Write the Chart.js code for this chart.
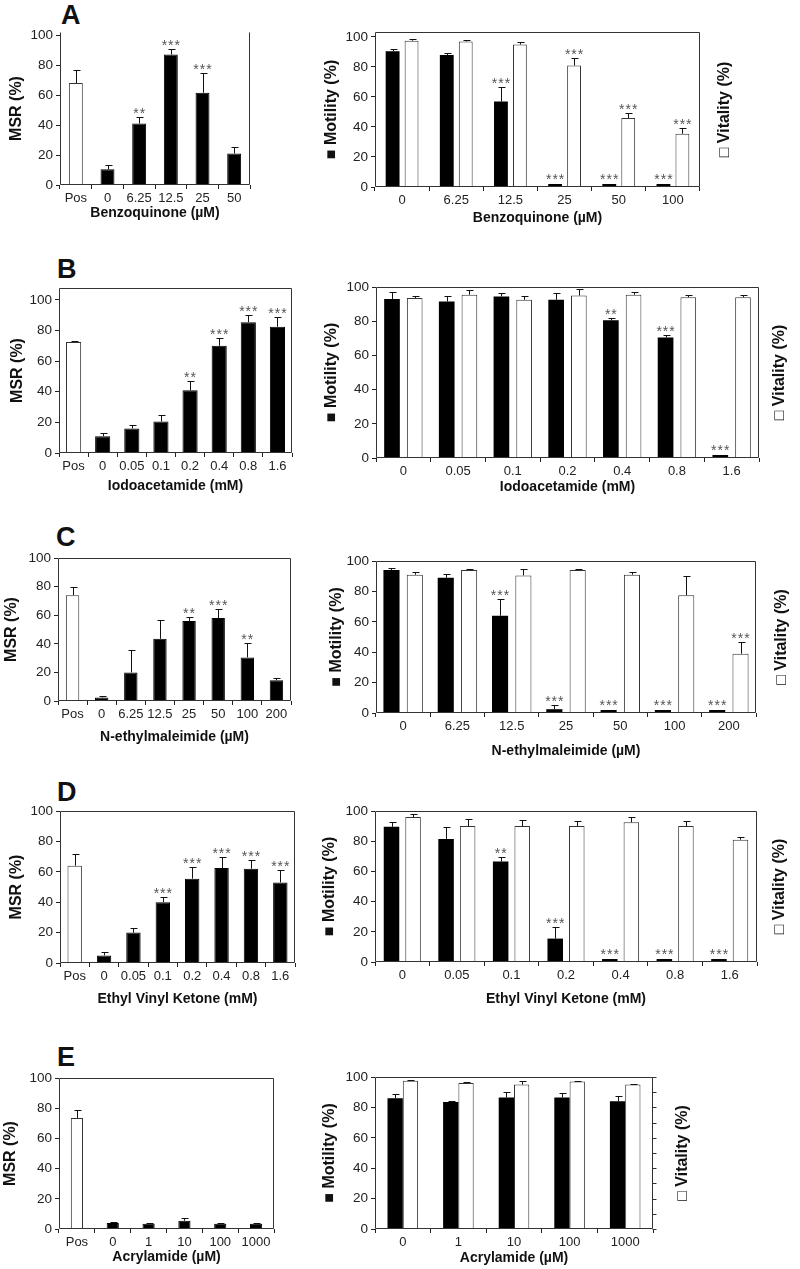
<!DOCTYPE html>
<html>
<head>
<meta charset="utf-8">
<script src="https://cdn.jsdelivr.net/npm/chart.js@4"></script>
<style>
  body { margin: 0; background: #fff; width: 800px; height: 1269px; position: relative; overflow: hidden; font-family: "Liberation Sans", Arial, sans-serif; }
  canvas { position: absolute; }
  .tag { position: absolute; font-weight: bold; font-size: 27px; line-height: 27px; color: #111; }
</style>
</head>
<body>
<div class="tag" style="left:61px;top:2px">A</div>
<div class="tag" style="left:57px;top:256px">B</div>
<div class="tag" style="left:56px;top:524px">C</div>
<div class="tag" style="left:57px;top:779px">D</div>
<div class="tag" style="left:57px;top:1044px">E</div>
<script>
// A - Benzoquinone
const bqMsrCats = ['Pos', '0', '6.25', '12.5', '25', '50'];
const bqMsr = [68, 10.5, 41, 87, 61.5, 21];
const bqMsrErr = [77, 13.5, 45.5, 90.5, 74.5, 25.5];
const bqMsrSig = ['', '', '**', '***', '***', ''];
const bqCats = ['0', '6.25', '12.5', '25', '50', '100'];
const bqMot = [90.5, 88, 57, 1.5, 1.5, 1.5];
const bqMotErr = [92, 89.5, 66.5, 1.5, 1.5, 1.5];
const bqMotSig = ['', '', '***', '***', '***', '***'];
const bqVit = [97.5, 97, 95, 81, 46, 35.5];
const bqVitErr = [98.5, 98, 96.5, 86, 49.5, 39];
const bqVitSig = ['', '', '', '***', '***', '***'];

// B - Iodoacetamide
const iaMsrCats = ['Pos', '0', '0.05', '0.1', '0.2', '0.4', '0.8', '1.6'];
const iaMsr = [72.5, 11, 16, 20.5, 41, 70, 85.5, 82.5];
const iaMsrErr = [73.5, 13, 18, 25, 47, 75, 90, 89];
const iaMsrSig = ['', '', '', '', '**', '***', '***', '***'];
const iaCats = ['0', '0.05', '0.1', '0.2', '0.4', '0.8', '1.6'];
const iaMot = [93, 91.5, 94.5, 92.5, 80.5, 70.5, 1.5];
const iaMotErr = [97, 94.5, 96.5, 96.5, 82, 72, 1.5];
const iaMotSig = ['', '', '', '', '**', '***', '***'];
const iaVit = [93.5, 95.5, 92.5, 95, 95.5, 94, 94];
const iaVitErr = [95, 98.5, 95, 99, 97, 95.5, 95.5];
const iaVitSig = ['', '', '', '', '', '', ''];

// C - N-ethylmaleimide
const nemMsrCats = ['Pos', '0', '6.25', '12.5', '25', '50', '100', '200'];
const nemMsr = [74, 2.5, 20, 43.5, 56, 58, 30.5, 14.5];
const nemMsrErr = [80, 3.5, 35.5, 56.5, 58.5, 64.5, 40.5, 16];
const nemMsrSig = ['', '', '', '', '**', '***', '**', ''];
const nemCats = ['0', '6.25', '12.5', '25', '50', '100', '200'];
const nemMot = [94, 89, 64, 2.5, 1.5, 1.5, 1.5];
const nemMotErr = [95.5, 91.5, 75, 5, 1.5, 1.5, 1.5];
const nemMotSig = ['', '', '***', '***', '***', '***', '***'];
const nemVit = [91, 94, 90.5, 94, 91, 77.5, 39];
const nemVitErr = [92.5, 94.5, 95, 95, 93, 90, 47];
const nemVitSig = ['', '', '', '', '', '', '***'];

// D - Ethyl vinyl ketone
const evkMsrCats = ['Pos', '0', '0.05', '0.1', '0.2', '0.4', '0.8', '1.6'];
const evkMsr = [64, 5, 20, 40, 55.5, 62.5, 62, 53];
const evkMsrErr = [72, 7.5, 23, 43.5, 63, 70, 68, 61];
const evkMsrSig = ['', '', '', '***', '***', '***', '***', '***'];
const evkCats = ['0', '0.05', '0.1', '0.2', '0.4', '0.8', '1.6'];
const evkMot = [89.5, 81.5, 66.5, 15.5, 1.5, 1.5, 1.5];
const evkMotErr = [92.5, 89.5, 69.5, 23, 1.5, 1.5, 1.5];
const evkMotSig = ['', '', '**', '***', '***', '***', '***'];
const evkVit = [96, 90, 90, 90, 92.5, 90, 81];
const evkVitErr = [98, 95, 94, 93.5, 96, 93.5, 82.5];
const evkVitSig = ['', '', '', '', '', '', ''];

// E - Acrylamide
const acrMsrCats = ['Pos', '0', '1', '10', '100', '1000'];
const acrMsr = [73.5, 4, 3.5, 5.5, 3.5, 3.5];
const acrMsrErr = [78.5, 4.5, 4.3, 7, 4.3, 4.3];
const acrMsrSig = ['', '', '', '', '', ''];
const acrCats = ['0', '1', '10', '100', '1000'];
const acrMot = [86, 83.5, 86.5, 86.5, 84];
const acrMotErr = [88.5, 84.5, 90, 89.5, 87.5];
const acrVit = [97.5, 96, 95, 97, 95];
const acrVitErr = [98.3, 96.5, 97.5, 97.2, 95.5];
const acrSig = ['', '', '', '', ''];

const FONT = '"Liberation Sans", Arial, sans-serif';
const INK = '#222';

// error bars, stars, frame and the right-hand label
const marks = {
  id: 'marks',
  afterDatasetsDraw(chart, args, o) {
    const ctx = chart.ctx;
    const a = chart.chartArea;
    const ys = chart.scales.y;
    ctx.save();
    ctx.strokeStyle = '#111';
    ctx.lineWidth = 1;
    ctx.font = '14px ' + FONT;
    ctx.letterSpacing = '1px';
    ctx.fillStyle = '#555';
    ctx.textAlign = 'center';
    ctx.textBaseline = 'alphabetic';
    chart.data.datasets.forEach((ds, di) => {
      chart.getDatasetMeta(di).data.forEach((bar, i) => {
        const x = Math.round(bar.x) + 0.5;
        let top = Math.min(ys.getPixelForValue(ds.data[i]), bar.y);
        if (ds.err[i] > ds.data[i]) {
          const e = Math.round(ys.getPixelForValue(ds.err[i])) + 0.5;
          ctx.beginPath();
          ctx.moveTo(x, top);
          ctx.lineTo(x, e);
          ctx.moveTo(x - 3, e);
          ctx.lineTo(x + 4, e);
          ctx.stroke();
          top = e;
        }
        if (ds.sig[i]) ctx.fillText(ds.sig[i], bar.x + 0.5, top);
      });
    });
    ctx.letterSpacing = '0px';
    // frame
    ctx.strokeStyle = '#333';
    const L = Math.round(a.left) + 0.5, R = Math.round(a.right) - 0.5;
    const T = Math.round(a.top) + 0.5, B = Math.round(a.bottom) - 0.5;
    ctx.beginPath();
    ctx.moveTo(L, T); ctx.lineTo(L, B); ctx.lineTo(R, B); ctx.lineTo(R, T);
    if (o.frameTop !== false) ctx.lineTo(L, T);
    ctx.stroke();
    if (o.rightTicks) {
      ctx.beginPath();
      for (let v = 0; v <= 100; v += 10) {
        const y = Math.round(ys.getPixelForValue(v)) + 0.5;
        ctx.moveTo(R, y);
        ctx.lineTo(R + 4, y);
      }
      ctx.stroke();
    }
    if (o.vx) {
      ctx.translate(o.vx, (a.top + a.bottom) / 2);
      ctx.rotate(-Math.PI / 2);
      ctx.fillStyle = '#111';
      ctx.font = 'bold 16px ' + FONT;
      ctx.textBaseline = 'middle';
      ctx.fillText('\u25A1 Vitality (%)', 0, 0);
    }
    ctx.restore();
  }
};

function panel(box, cats, sets, xTitle, yTitle) {
  const padTop = 14;
  const left = Math.round(box.yt - 10);
  const yw = box.l - left;
  const top = box.t - padTop;
  const bottom = Math.round(box.xt + 8.4);
  const xh = bottom - box.b;
  const padRight = box.vx ? box.vx - box.r + 12 : 4;
  const cv = document.createElement('canvas');
  cv.width = box.r - left + padRight;
  cv.height = bottom - top;
  cv.style.left = left + 'px';
  cv.style.top = top + 'px';
  document.body.appendChild(cv);

  new Chart(cv, {
    type: 'bar',
    data: { labels: cats, datasets: sets },
    options: {
      responsive: false,
      animation: false,
      devicePixelRatio: 1,
      layout: { padding: { top: padTop, right: padRight, left: 0, bottom: 0 } },
      datasets: { bar: { categoryPercentage: box.cp || 1, barPercentage: box.bp, borderWidth: 1 } },
      plugins: {
        legend: { display: false },
        tooltip: { enabled: false },
        marks: { frameTop: box.frameTop, rightTicks: box.rt, vx: box.vx ? box.vx - left : 0 }
      },
      scales: {
        x: {
          grid: { display: true, drawOnChartArea: false, drawTicks: true, tickLength: 4, color: INK },
          border: { display: false },
          ticks: { color: INK, font: { family: FONT, size: 13 }, padding: 2, maxRotation: 0, autoSkip: false },
          title: { display: true, text: xTitle, color: '#111', padding: 0, font: { family: FONT, size: 14, weight: 'bold' } },
          afterFit: s => { s.height = xh; }
        },
        y: {
          min: 0,
          max: box.max || 100,
          bounds: 'data',
          grid: { display: true, drawOnChartArea: false, drawTicks: true, tickLength: 4, color: INK },
          border: { display: false },
          ticks: {
            stepSize: 10, includeBounds: false, color: INK, padding: 3,
            font: { family: FONT, size: 13.5 },
            callback: v => (v % 20 === 0 ? v : '')
          },
          title: { display: true, text: yTitle, color: '#111', padding: 0, font: { family: FONT, size: 16, weight: 'bold' } },
          afterFit: s => { s.width = yw; }
        }
      }
    },
    plugins: [marks]
  });
}

function msrSet(cats, vals, err, sig) {
  return [{
    data: vals, err: err, sig: sig,
    backgroundColor: cats.map(c => (c === 'Pos' ? '#fff' : '#000')),
    borderColor: cats.map(c => (c === 'Pos' ? '#333' : '#000'))
  }];
}

function pairSets(mot, motErr, motSig, vit, vitErr, vitSig) {
  return [
    { data: mot, err: motErr, sig: motSig, backgroundColor: '#000', borderColor: '#000', borderWidth: 0, minBarLength: 3 },
    { data: vit, err: vitErr, sig: vitSig, backgroundColor: '#fff', borderColor: '#333' }
  ];
}

const MOT = '\u25A0 Motility (%)';

panel({ l: 60, t: 32, r: 250, b: 185, yt: 17, xt: 214, max: 102, bp: 0.44, frameTop: false },
  bqMsrCats, msrSet(bqMsrCats, bqMsr, bqMsrErr, bqMsrSig), 'Benzoquinone (\u00B5M)', 'MSR (%)');
panel({ l: 375, t: 32, r: 700, b: 187, yt: 332, xt: 219, max: 103.3, vx: 725, cp: 0.70, bp: 0.73 },
  bqCats, pairSets(bqMot, bqMotErr, bqMotSig, bqVit, bqVitErr, bqVitSig), 'Benzoquinone (\u00B5M)', MOT);

panel({ l: 59, t: 288, r: 292, b: 453, yt: 18, xt: 487, max: 107.8, bp: 0.52 },
  iaMsrCats, msrSet(iaMsrCats, iaMsr, iaMsrErr, iaMsrSig), 'Iodoacetamide (mM)', 'MSR (%)');
panel({ l: 376, t: 287, r: 759, b: 458, yt: 332, xt: 488, vx: 780, cp: 0.83, bp: 0.69 },
  iaCats, pairSets(iaMot, iaMotErr, iaMotSig, iaVit, iaVitErr, iaVitSig), 'Iodoacetamide (mM)', MOT);

panel({ l: 58, t: 558, r: 291, b: 701, yt: 12, xt: 738, bp: 0.46 },
  nemMsrCats, msrSet(nemMsrCats, nemMsr, nemMsrErr, nemMsrSig), 'N-ethylmaleimide (\u00B5M)', 'MSR (%)');
panel({ l: 376, t: 561, r: 756, b: 713, yt: 337, xt: 752, vx: 782, cp: 0.86, bp: 0.69 },
  nemCats, pairSets(nemMot, nemMotErr, nemMotSig, nemVit, nemVitErr, nemVitSig), 'N-ethylmaleimide (\u00B5M)', MOT);

panel({ l: 60, t: 811, r: 295, b: 963, yt: 17, xt: 1000, bp: 0.49 },
  evkMsrCats, msrSet(evkMsrCats, evkMsr, evkMsrErr, evkMsrSig), 'Ethyl Vinyl Ketone (mM)', 'MSR (%)');
panel({ l: 375, t: 811, r: 757, b: 962, yt: 330, xt: 1000, vx: 780, cp: 0.79, bp: 0.72 },
  evkCats, pairSets(evkMot, evkMotErr, evkMotSig, evkVit, evkVitErr, evkVitSig), 'Ethyl Vinyl Ketone (mM)', MOT);

panel({ l: 59, t: 1078, r: 274, b: 1229, yt: 11, xt: 1258, bp: 0.34 },
  acrMsrCats, msrSet(acrMsrCats, acrMsr, acrMsrErr, acrMsrSig), 'Acrylamide (\u00B5M)', 'MSR (%)');
panel({ l: 375, t: 1077, r: 653, b: 1229, yt: 330, xt: 1259, vx: 683, cp: 0.55, bp: 1.0, rt: true },
  acrCats, pairSets(acrMot, acrMotErr, acrSig, acrVit, acrVitErr, acrSig), 'Acrylamide (\u00B5M)', MOT);
</script>
</body>
</html>
